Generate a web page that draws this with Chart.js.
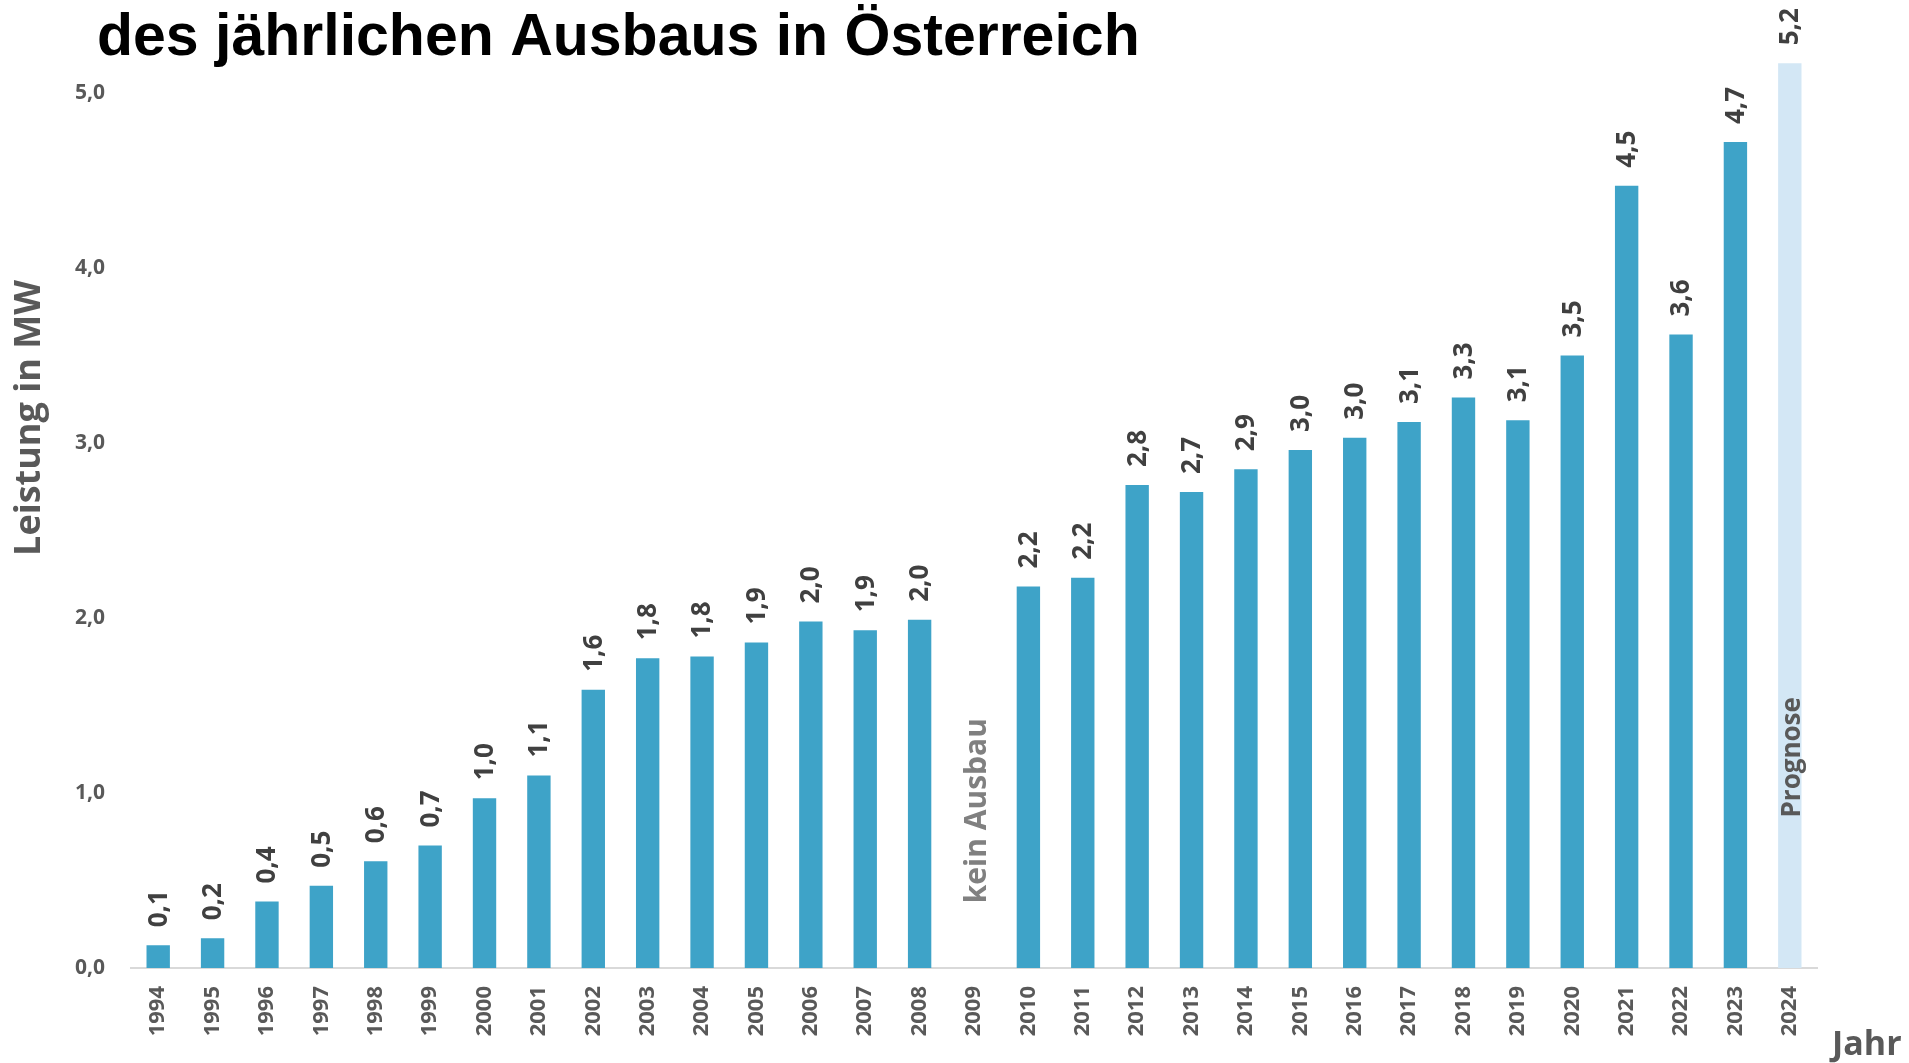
<!DOCTYPE html>
<html lang="de">
<head>
<meta charset="utf-8">
<title>Jährlicher Ausbau in Österreich</title>
<script src="https://cdn.jsdelivr.net/npm/chart.js@4.4.1/dist/chart.umd.min.js"></script>
<style>
  html, body { margin: 0; padding: 0; background: #fff; }
  #chart { display: block; }
</style>
</head>
<body>
<canvas id="chart" width="1909" height="1063"></canvas>
<script>
// Daten
const years = ['1994', '1995', '1996', '1997', '1998', '1999', '2000', '2001', '2002', '2003',
  '2004', '2005', '2006', '2007', '2008', '2009', '2010', '2011', '2012', '2013',
  '2014', '2015', '2016', '2017', '2018', '2019', '2020', '2021', '2022', '2023', '2024'];
const leistung = [0.13, 0.17, 0.38, 0.47, 0.61, 0.70, 0.97, 1.10, 1.59, 1.77,
  1.78, 1.86, 1.98, 1.93, 1.99, null, 2.18, 2.23, 2.76, 2.72,
  2.85, 2.96, 3.03, 3.12, 3.26, 3.13, 3.50, 4.47, 3.62, 4.72, 5.17];
const prognoseJahr = '2024';
const yTicks = [0, 1, 2, 3, 4, 5];

const titel = 'des jährlichen Ausbaus in Österreich';
const yTitel = 'Leistung in MW';
const xTitel = 'Jahr';
// Hinweise im Diagramm: Kategorie, Wert, an dem der Text beginnt
const hinweise = [
  { year: '2009', from: 0.37, text: 'kein Ausbau', color: '#808080', size: 30 },
  { year: '2024', from: 0.86, text: 'Prognose', color: '#595959', size: 26 }
];

const blau = '#3ea3c8';
const hellblau = '#d3e7f5';
const fmt = v => v.toFixed(1).replace('.', ',');

const textPlugin = {
  id: 'texte',
  afterDatasetsDraw(chart) {
    const ctx = chart.ctx;
    const xs = chart.scales.x;
    const ys = chart.scales.y;
    const meta = chart.getDatasetMeta(0);

    // Werte über den Balken
    ctx.save();
    ctx.font = 'bold 26px "Open Sans"';
    ctx.fillStyle = '#404040';
    ctx.textAlign = 'left';
    ctx.textBaseline = 'middle';
    meta.data.forEach((bar, i) => {
      if (leistung[i] == null) return;
      ctx.save();
      ctx.translate(bar.x, bar.y - 18);
      ctx.rotate(-Math.PI / 2);
      ctx.fillText(fmt(leistung[i]), 0, 1);
      ctx.restore();
    });

    // Hinweise
    hinweise.forEach(h => {
      ctx.save();
      ctx.font = 'bold ' + h.size + 'px "Open Sans"';
      ctx.fillStyle = h.color;
      ctx.translate(xs.getPixelForValue(years.indexOf(h.year)) + 3, ys.getPixelForValue(h.from));
      ctx.rotate(-Math.PI / 2);
      ctx.fillText(h.text, 0, 0);
      ctx.restore();
    });

    // Titel
    ctx.font = 'bold 59px "Liberation Sans", Arial, sans-serif';
    ctx.fillStyle = '#000';
    ctx.textAlign = 'left';
    ctx.textBaseline = 'alphabetic';
    ctx.fillText(titel, 97, 55);

    // Achsentitel
    ctx.font = 'bold 36px "Open Sans"';
    ctx.fillStyle = '#595959';
    ctx.textAlign = 'center';
    ctx.textBaseline = 'middle';
    ctx.save();
    ctx.translate(30, 418);
    ctx.rotate(-Math.PI / 2);
    ctx.fillText(yTitel, 0, 0);
    ctx.restore();

    ctx.font = 'bold 34px "Open Sans"';
    ctx.textAlign = 'left';
    ctx.textBaseline = 'alphabetic';
    ctx.fillText(xTitel, 1832, 1055);
    ctx.restore();
  }
};

function draw() {
  const ctx = document.getElementById('chart').getContext('2d');
  new Chart(ctx, {
    type: 'bar',
    data: {
      labels: years,
      datasets: [{
        data: leistung,
        backgroundColor: years.map(y => y === prognoseJahr ? hellblau : blau),
        borderWidth: 0,
        barPercentage: 0.43,
        categoryPercentage: 1
      }]
    },
    options: {
      responsive: false,
      animation: false,
      layout: { padding: { left: 0, top: 58, right: 92, bottom: 0 } },
      plugins: {
        legend: { display: false },
        tooltip: { enabled: false }
      },
      scales: {
        x: {
          grid: { display: false, drawTicks: false },
          border: { display: true, color: '#d9d9d9', width: 2 },
          ticks: {
            minRotation: 90,
            maxRotation: 90,
            autoSkip: false,
            padding: 18,
            color: '#595959',
            font: { family: 'Open Sans', weight: 'bold', size: 22 }
          },
          afterFit: s => { s.height = 95; }
        },
        y: {
          min: 0,
          max: 5.2,
          grid: { display: false, drawTicks: false },
          border: { display: false },
          ticks: {
            stepSize: 1,
            padding: 26,
            color: '#595959',
            font: { family: 'Open Sans', weight: 'bold', size: 21 },
            callback: v => fmt(v)
          },
          afterBuildTicks: s => { s.ticks = yTicks.map(v => ({ value: v })); },
          afterFit: s => { s.width = 131; }
        }
      }
    },
    plugins: [textPlugin]
  });
}

Promise.all([
  document.fonts.load('bold 26px "Open Sans"'),
  document.fonts.load('bold 58px "Liberation Sans"')
]).then(draw, draw);
</script>
</body>
</html>
